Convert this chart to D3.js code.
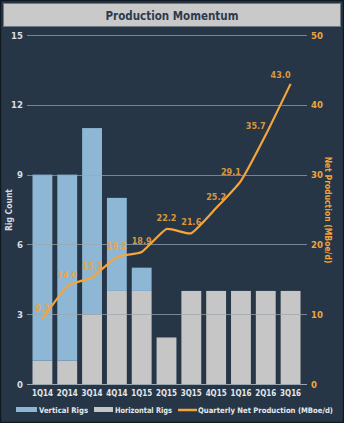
<!DOCTYPE html>
<html><head><meta charset="utf-8">
<script src="https://cdn.jsdelivr.net/npm/d3@7/dist/d3.min.js"></script>
<style>
html,body{margin:0;padding:0;background:#263646;}
svg{display:block;}
text{font-family:"DejaVu Sans Condensed","Liberation Sans Narrow","Open Sans",sans-serif;}
</style></head>
<body>
<svg id="c" width="344" height="423"></svg>
<script>
const categories = ["1Q14","2Q14","3Q14","4Q14","1Q15","2Q15","3Q15","4Q15","1Q16","2Q16","3Q16"];
const horizontalRigs = [1,1,3,4,4,2,4,4,4,4,4];
const verticalRigs = [8,8,8,4,1,0,0,0,0,0,0];
const netProduction = [9.3,14.0,15.3,18.2,18.9,22.2,21.6,25.2,29.1,35.7,43.0];
const leftTicks = [0,3,6,9,12,15];
const rightTicks = [0,10,20,30,40,50];

const svg = d3.select("#c");
const W = 344, H = 423;
const FONT = "'DejaVu Sans Condensed','Liberation Sans Narrow',sans-serif";

// frame
svg.append("rect").attr("x",0.5).attr("y",0.5).attr("width",W-1).attr("height",H-1)
  .attr("fill","#263646").attr("stroke","#111a22").attr("stroke-width",1.5);
svg.append("rect").attr("x",3.5).attr("y",3.5).attr("width",W-7).attr("height",23)
  .attr("fill","#c9c9c9").attr("stroke","#6f7780").attr("stroke-width",1);
svg.append("text").attr("x",W/2).attr("y",19.5).attr("text-anchor","middle")
  .attr("font-size",11.5).attr("font-weight","bold").attr("fill","#2c3a4e")
  .text("Production Momentum");

const x = d3.scaleBand().domain(categories).range([30,303]).paddingInner(0.2).paddingOuter(0.1);
const yL = d3.scaleLinear().domain([0,15]).range([384,35]);
const yR = d3.scaleLinear().domain([0,50]).range([384,35]);

// bars
const g = svg.append("g");
g.selectAll("rect.h").data(categories).join("rect").attr("class","h")
  .attr("x",d=>x(d)).attr("width",x.bandwidth())
  .attr("y",(d,i)=>yL(horizontalRigs[i])).attr("height",(d,i)=>yL(0)-yL(horizontalRigs[i]))
  .attr("fill","#c6c6c6");
g.selectAll("rect.v").data(categories).join("rect").attr("class","v")
  .attr("x",d=>x(d)).attr("width",x.bandwidth())
  .attr("y",(d,i)=>yL(horizontalRigs[i]+verticalRigs[i])).attr("height",(d,i)=>yL(0)-yL(verticalRigs[i]))
  .attr("fill","#8db7d4");

// gridlines
const grid = svg.append("g");
grid.selectAll("line").data(leftTicks.filter(t=>t>0)).join("line")
  .attr("x1",27).attr("x2",307).attr("y1",d=>Math.round(yL(d))+0.5).attr("y2",d=>Math.round(yL(d))+0.5)
  .attr("stroke","#9aa6b0").attr("stroke-opacity",0.7).attr("stroke-width",1);
svg.append("line").attr("x1",27).attr("x2",307).attr("y1",384.5).attr("y2",384.5)
  .attr("stroke","#9aa6b0").attr("stroke-width",1);

// left axis labels
const la = d3.axisLeft(yL).tickValues(leftTicks).tickSize(0).tickPadding(0);
const lg = svg.append("g").attr("transform","translate(23,0)").call(la);
lg.select(".domain").remove();
lg.selectAll("text").attr("fill","#d9dee3").attr("font-size",9.5).attr("font-weight","bold")
  .attr("font-family",FONT);

// right axis labels
const ra = d3.axisRight(yR).tickValues(rightTicks).tickSize(0).tickPadding(0);
const rg = svg.append("g").attr("transform","translate(311,0)").call(ra);
rg.select(".domain").remove();
rg.selectAll("text").attr("fill","#f0a53a").attr("font-size",9.5).attr("font-weight","bold")
  .attr("font-family",FONT);

// x axis labels
const xa = d3.axisBottom(x).tickSize(0).tickPadding(0);
const xg = svg.append("g").attr("transform","translate(0,389)").call(xa);
xg.select(".domain").remove();
xg.selectAll("text").attr("fill","#e4e8ec").attr("font-size",9.5).attr("font-weight","bold")
  .attr("font-family",FONT).attr("textLength",21).attr("lengthAdjust","spacingAndGlyphs");

// axis titles
svg.append("text").attr("transform","translate(12,210) rotate(-90)").attr("text-anchor","middle")
  .attr("font-size",8.5).attr("font-weight","bold").attr("fill","#d9dee3").text("Rig Count");
svg.append("text").attr("transform","translate(325,210) rotate(90)").attr("text-anchor","middle")
  .attr("font-size",8.5).attr("font-weight","bold").attr("fill","#f0a53a").text("Net Production (MBoe/d)");

// line
const cx = d => x(d)+x.bandwidth()/2;
const line = d3.line().x((d,i)=>cx(categories[i])).y(d=>yR(d)).curve(d3.curveCardinal.tension(0.5));
svg.append("path").datum(netProduction).attr("d",line).attr("fill","none")
  .attr("stroke","#f5a53c").attr("stroke-width",2.2).attr("stroke-linejoin","round");

// labels
const isSteep = (d,i) => i===netProduction.length-1 || netProduction[i+1]-d>5;
svg.selectAll("text.lbl").data(netProduction).join("text").attr("class","lbl")
  .attr("x",(d,i)=>cx(categories[i]) - (isSteep(d,i)?10:0))
  .attr("y",(d,i)=>yR(d) - (isSteep(d,i)?6:8))
  .attr("text-anchor","middle").attr("font-size",9).attr("font-weight","bold")
  .attr("fill","#f0a53a").attr("fill-opacity",0.9).text(d=>d.toFixed(1));

// legend
const lgd = svg.append("g").attr("transform","translate(0,410)");
lgd.append("rect").attr("x",16).attr("y",-3).attr("width",21).attr("height",5).attr("fill","#8db7d4");
lgd.append("text").attr("x",39).attr("y",3).attr("font-size",7.8).attr("font-weight","bold").attr("fill","#e4e8ec")
  .attr("textLength",49).attr("lengthAdjust","spacingAndGlyphs").text("Vertical Rigs");
lgd.append("rect").attr("x",94).attr("y",-3).attr("width",19).attr("height",5).attr("fill","#c6c6c6");
lgd.append("text").attr("x",115).attr("y",3).attr("font-size",7.8).attr("font-weight","bold").attr("fill","#e4e8ec")
  .attr("textLength",57).attr("lengthAdjust","spacingAndGlyphs").text("Horizontal Rigs");
lgd.append("line").attr("x1",178).attr("x2",197).attr("y1",0).attr("y2",0).attr("stroke","#f5a53c").attr("stroke-width",2.5);
lgd.append("text").attr("x",198).attr("y",3).attr("font-size",7.6).attr("font-weight","bold").attr("fill","#e4e8ec")
  .attr("textLength",135).attr("lengthAdjust","spacingAndGlyphs").text("Quarterly Net Production (MBoe/d)");
</script>
</body></html>
